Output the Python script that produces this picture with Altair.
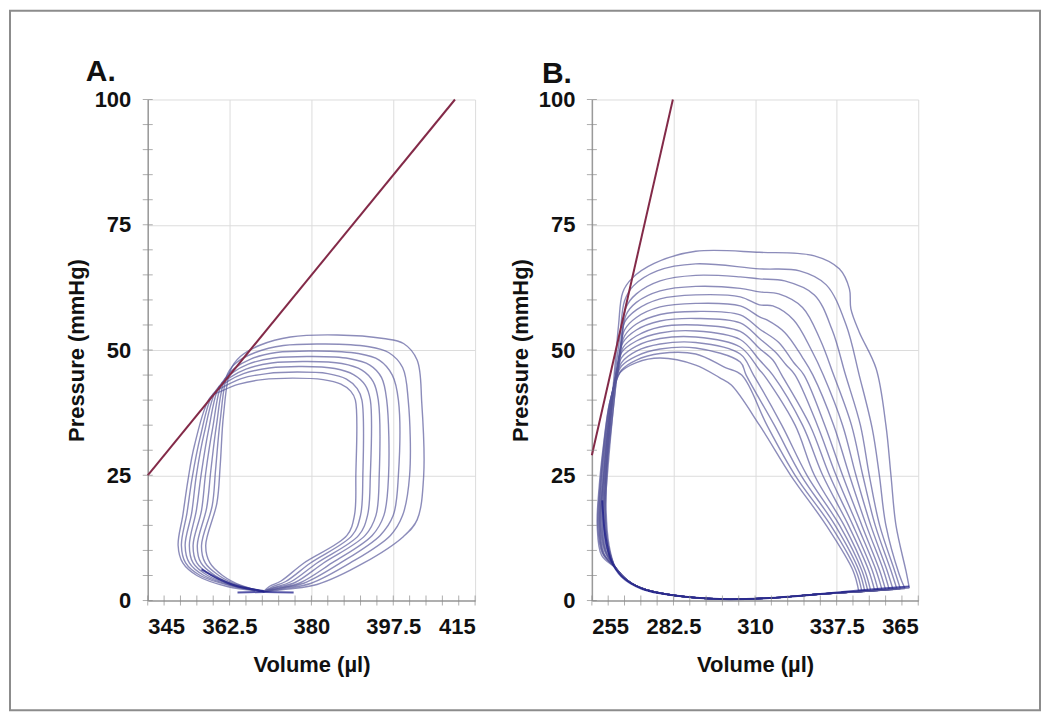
import altair as alt
import pandas as pd

FONT = "Liberation Sans"

# ---------------- Panel A data (volume µl, pressure mmHg) ----------------
A_X_RANGE = [345, 415]
A_X_TICKS = [345, 362.5, 380, 397.5, 415]
A_X_MINOR = [345, 348.5, 352, 355.5, 359, 362.5, 366, 369.5, 373, 376.5, 380,
             383.5, 387, 390.5, 394, 397.5, 401, 404.5, 408, 411.5, 415]
Y_TICKS = [0, 25, 50, 75, 100]
Y_MINOR = [0, 5, 10, 15, 20, 25, 30, 35, 40, 45, 50, 55, 60, 65, 70, 75, 80, 85, 90, 95, 100]

A_ESPVR_VOL = [345, 410.7]
A_ESPVR_PRS = [25, 100]

A0_VOL = [369.8, 375, 381.2, 391.2, 399.7, 402.6, 404, 403.6, 402.6, 399.7, 395.4, 385.5, 375.5, 369.1, 364.8, 362.7, 361.2, 360.5, 359.8, 357.4, 358.3, 361, 365, 369.8]
A0_PRS = [1.8, 2.3, 3.2, 7.5, 12.8, 16.1, 24.8, 39.4, 48, 51.3, 52.3, 53, 52.6, 51, 48.7, 46, 37, 27, 19.5, 11, 7.5, 5, 3, 1.8]
A1_VOL = [369.8, 374, 379.8, 388.3, 396.9, 399.5, 401, 400.7, 399.5, 396.5, 392, 383, 374, 368, 364, 362.1, 360.5, 359.5, 358.8, 356.5, 357.3, 360.2, 364.6, 369.8]
A1_PRS = [1.8, 2.4, 3.4, 7.5, 13, 17, 25, 40, 46.5, 49.5, 50.7, 51.2, 50.9, 49.5, 47.5, 45.3, 36, 26, 19, 11, 7.5, 5, 3, 1.8]
A2_VOL = [369.8, 373.5, 378.5, 386.2, 394.7, 397.5, 398.6, 398.6, 397.3, 394.5, 390, 381, 372.5, 367, 363.5, 361.5, 359.7, 358.5, 357.6, 355.6, 356.4, 359.4, 364.2, 369.8]
A2_PRS = [1.8, 2.5, 3.5, 7.5, 13, 17, 25, 40, 45, 48, 49.3, 49.8, 49.5, 48.2, 46.3, 44.2, 35, 26, 18.5, 11, 7.5, 5, 3, 1.8]
A3_VOL = [369.8, 373, 377.5, 384.4, 393.0, 395.5, 396.5, 396.1, 395, 392.5, 388, 380, 372, 366.5, 363, 360.9, 358.9, 357.4, 356.5, 354.7, 355.5, 358.6, 363.8, 369.8]
A3_PRS = [1.8, 2.5, 3.5, 7.5, 13, 17, 25, 40, 44.5, 47, 48.3, 48.7, 48.4, 47.2, 45.4, 43.5, 34.5, 25.5, 18, 11, 7.5, 5, 3, 1.8]
A4_VOL = [369.8, 372.5, 376.5, 382.6, 391.5, 393.8, 394.5, 394.3, 393.2, 390.8, 386.5, 379, 371.5, 366, 362.5, 360.3, 358.0, 356.4, 355.4, 353.9, 354.7, 357.8, 363.4, 369.8]
A4_PRS = [1.8, 2.6, 3.6, 7.5, 13, 17, 25, 40, 43.7, 46, 47.3, 47.7, 47.4, 46.2, 44.5, 42.8, 34, 25, 18, 11, 7.5, 5, 3, 1.8]
A5_VOL = [369.8, 372, 375.5, 381.2, 390.1, 392, 392.6, 392.6, 391.5, 389, 385, 378, 371, 365.5, 362, 359.7, 357.1, 355.4, 354.4, 353.0, 353.9, 357, 363, 369.8]
A5_PRS = [1.8, 2.6, 3.7, 7.5, 13, 17, 25, 40, 43, 45.1, 46.3, 46.7, 46.4, 45.3, 43.7, 42.1, 33.5, 25, 17.5, 11, 7.5, 5, 3, 1.8]
A6_VOL = [369.8, 371.5, 374.5, 379.8, 388.7, 390.5, 391, 390.8, 389.8, 387.5, 383.5, 377, 370.5, 365, 361.5, 359.0, 356.2, 354.5, 353.4, 352.2, 353.1, 356.2, 362.5, 369.8]
A6_PRS = [1.8, 2.7, 3.8, 7.5, 13, 17, 25, 40, 42.3, 44.2, 45.3, 45.6, 45.3, 44.3, 42.8, 41.3, 32.5, 24.5, 17.5, 11, 7.5, 5, 3, 1.8]
A7_VOL = [369.8, 371, 373.5, 378.4, 387.6, 389.2, 389.5, 389.4, 388.4, 386.3, 382.5, 376, 369.5, 364.5, 361, 358.4, 355, 353.6, 352.5, 351.5, 352.5, 355.5, 362, 369.8]
A7_PRS = [1.8, 2.8, 3.9, 7.5, 13, 17, 25, 40, 41.8, 43.2, 44.1, 44.4, 44.1, 43.2, 41.9, 40.6, 31, 24, 17, 11, 7.5, 5, 2.8, 1.8]

A_DARK1_VOL = [356.5, 360, 364, 369.8]
A_DARK1_PRS = [6.2, 4.4, 2.9, 1.9]
A_DARK2_VOL = [364.2, 370, 376.2]
A_DARK2_PRS = [1.6, 1.7, 1.6]

# ---------------- Panel B data ----------------
B_X_RANGE = [255, 365]
B_X_TICKS = [255, 282.5, 310, 337.5, 365]
B_X_MINOR = [255, 260.5, 266, 271.5, 277, 282.5, 288, 293.5, 299, 304.5, 310,
             315.5, 321, 326.5, 332, 337.5, 343, 348.5, 354, 359.5, 365]

B_ESPVR_VOL = [255, 282.3]
B_ESPVR_PRS = [29, 100]

B_FLOOR_VOL = [263, 267, 273, 283, 298, 315, 330, 340]
B_FLOOR_PRS = [6.5, 4, 2.2, 1.0, 0.3, 0.5, 1.2, 1.6]

B0_VOL = [362, 360.9, 357.5, 355.8, 354.1, 350.8, 345.1, 342.3, 341.8, 338.4, 330, 311.5, 290, 276, 268.5, 265.4, 264, 262.8, 261.5, 260, 259.5, 260.5]
B0_PRS = [2.5, 5.8, 15, 25, 35, 46.3, 53.6, 58.2, 62.2, 66.2, 68.8, 69.5, 69.7, 67.3, 64.3, 61.5, 55, 47, 38, 28, 18, 11]
B1_VOL = [360.5, 358.6, 354.1, 351.9, 349.5, 345.1, 340.7, 334, 325, 311.5, 290, 277, 269, 266, 264.5, 263, 261.5, 260.2, 259.8, 260.8]
B1_PRS = [2.4, 5.2, 15, 25, 34.3, 45, 55, 63, 65.8, 66.2, 67.2, 65.8, 62.8, 59.8, 53, 46, 37, 27, 18, 11]
B2_VOL = [359, 357, 352, 348.5, 345.5, 340.5, 336, 330, 320, 311.5, 305, 290, 278, 270, 266.5, 265, 263.5, 262, 260.5, 259.5, 260.5]
B2_PRS = [2.3, 6, 15, 25, 35, 45, 54, 61, 63.8, 64.2, 64.6, 64.9, 63.8, 61.2, 58.5, 52, 45.5, 37, 27, 18, 11]
B3_VOL = [357.8, 355.8, 350.5, 346.3, 342.5, 336.5, 332, 326, 318, 311.5, 305, 290, 278, 270, 266.5, 265, 263.5, 261.8, 260, 259, 260]
B3_PRS = [2.3, 6, 15, 25, 35, 45, 52, 58.5, 61.2, 61.6, 62.3, 62.7, 61.8, 59.5, 57, 51.5, 45, 36, 26, 17, 10.5]
B4_VOL = [356.5, 354.5, 349, 344, 339.5, 333, 329, 323, 316, 311.5, 305, 290, 278, 270, 266, 264.5, 263, 261.5, 259.8, 259.2, 260.5]
B4_PRS = [2.2, 6, 15, 25, 35, 45, 50, 56, 58.8, 59.0, 60.6, 61.0, 60.2, 58, 55.5, 50.5, 44.5, 36, 26, 17, 10.5]
B5_VOL = [355.2, 353.3, 347.5, 341.8, 336.5, 329.5, 326, 320, 314, 311.5, 305, 290, 278, 270, 266, 264.5, 263, 261, 259.5, 258.8, 260]
B5_PRS = [2.2, 6, 15, 25, 35, 45, 48.5, 53.5, 56, 56.6, 58.8, 59.3, 58.6, 56.5, 54, 49.5, 44, 35.5, 26, 17, 10.5]
B6_VOL = [354, 352, 346, 339.5, 333.5, 326.5, 323, 318, 311.5, 305, 290, 278, 270, 266, 264.2, 262.5, 261, 259.5, 258.5, 259.8]
B6_PRS = [2.1, 6, 15, 25, 35, 45, 47.5, 51.5, 54.2, 57.0, 57.7, 57.1, 55.2, 52.8, 48.5, 43, 35, 25.5, 16.5, 10]
B7_VOL = [352.8, 350.8, 344.5, 337.3, 331, 323.5, 320.5, 317, 311.5, 305, 290, 278, 270, 265.5, 264, 262.3, 260.5, 259, 258.3, 259.5]
B7_PRS = [2.1, 6, 15, 25, 35, 45, 47, 49.5, 52.3, 55.4, 56.3, 55.8, 54, 51.5, 47.5, 42.5, 34.5, 25, 16.5, 10]
B8_VOL = [351.5, 349.5, 343, 335.1, 328.5, 319, 316, 311.5, 305, 290, 278, 270, 265.5, 264, 262, 260.5, 259, 258, 259.5]
B8_PRS = [2.0, 6, 15, 25, 35, 45, 48, 50.3, 53.7, 55.0, 54.6, 52.8, 50.5, 46.5, 42, 34, 24.5, 16, 10]
B9_VOL = [350.3, 348.3, 341.5, 332.8, 326, 316, 311.5, 305, 290, 278, 270, 265, 263.5, 262, 260.3, 258.8, 257.8, 259.2]
B9_PRS = [2.0, 6, 15, 25, 35, 45, 48.0, 52.1, 53.8, 53.4, 51.8, 49.5, 46, 41.5, 33.5, 24, 16, 10]
B10_VOL = [349, 347, 340, 330, 323.5, 313, 311.5, 305, 290, 278, 270, 265, 263.5, 261.8, 260, 258.5, 257.7, 259]
B10_PRS = [1.9, 6, 15, 25, 35, 45, 46.0, 50.6, 52.6, 52.3, 50.8, 48.5, 45, 41, 33, 24, 15.5, 9.5]
B11_VOL = [348, 346, 338.5, 327.5, 319, 309.5, 305, 290, 278, 270, 265, 263.3, 261.5, 259.8, 258.2, 257.5, 258.8]
B11_PRS = [1.9, 6, 15, 25, 35, 45, 49.2, 51.5, 51.2, 49.8, 47.5, 44.5, 40.5, 33, 24, 15.5, 9.5]
B12_VOL = [347, 345, 337, 325.5, 316.5, 307, 305, 290, 278, 270, 265, 263, 261.3, 259.5, 258, 257.3, 258.7]
B12_PRS = [1.8, 6, 15, 25, 35, 45, 47.6, 50.4, 50.2, 48.8, 46.8, 44, 40, 32.5, 23.5, 15, 9.5]
B13_VOL = [346, 344, 335.5, 323.5, 314, 305.5, 300, 290, 278, 270, 265, 263, 261, 259.2, 257.8, 257, 258.5]
B13_PRS = [1.8, 6, 15, 25, 35, 45, 46.5, 49.2, 49.3, 48, 46, 43.5, 39.5, 32, 23.5, 15, 9.5]
B14_VOL = [345, 343, 334, 322, 311.5, 302, 298, 290, 278, 270, 264.5, 262.8, 260.8, 259, 257.5, 256.8, 258.3]
B14_PRS = [1.7, 6, 15, 25, 35, 43, 44.5, 47, 48.4, 47.5, 45.5, 43, 39, 31.5, 23, 15, 9]

B_DARK_VOL = [258.5, 259.5, 261.5, 265, 272, 283, 298, 315, 330, 345, 362]
B_DARK_PRS = [20, 13, 8, 4.8, 2.3, 1.0, 0.3, 0.5, 1.2, 2.0, 2.8]

# ---------------- styling ----------------
LOOP_COLOR = "#55559a"
DARK_COLOR = "#1c1c8a"
ESPVR_COLOR = "#832a48"
TICK_COLOR = "#8a8a8a"
W_A, W_B, H = 328, 327, 502


def loops_frame(prefix, loops):
    rows = []
    for k, (vols, prss) in enumerate(loops):
        for i, (v, p) in enumerate(zip(vols, prss)):
            rows.append({"loop": f"{prefix}{k}", "i": i, "vol": v, "prs": p})
    return pd.DataFrame(rows)


a_loops = loops_frame("A", [(A0_VOL, A0_PRS), (A1_VOL, A1_PRS), (A2_VOL, A2_PRS), (A3_VOL, A3_PRS),
                            (A4_VOL, A4_PRS), (A5_VOL, A5_PRS), (A6_VOL, A6_PRS), (A7_VOL, A7_PRS)])
b_upper = [(B0_VOL, B0_PRS), (B1_VOL, B1_PRS), (B2_VOL, B2_PRS), (B3_VOL, B3_PRS), (B4_VOL, B4_PRS),
           (B5_VOL, B5_PRS), (B6_VOL, B6_PRS), (B7_VOL, B7_PRS), (B8_VOL, B8_PRS), (B9_VOL, B9_PRS),
           (B10_VOL, B10_PRS), (B11_VOL, B11_PRS), (B12_VOL, B12_PRS), (B13_VOL, B13_PRS), (B14_VOL, B14_PRS)]
b_closed = [(v + B_FLOOR_VOL + [v[0]], p + B_FLOOR_PRS + [p[0]]) for v, p in b_upper]
b_loops = loops_frame("B", b_closed)

a_dark = loops_frame("AD", [(A_DARK1_VOL, A_DARK1_PRS), (A_DARK2_VOL, A_DARK2_PRS)])
b_dark = loops_frame("BD", [(B_DARK_VOL, B_DARK_PRS)])
a_espvr = pd.DataFrame({"vol": A_ESPVR_VOL, "prs": A_ESPVR_PRS})
b_espvr = pd.DataFrame({"vol": B_ESPVR_VOL, "prs": B_ESPVR_PRS})
one = pd.DataFrame({"k": [0]})


def panel(loops, dark, espvr, xdom, xticks, xminor, width, letter, lx, ly, frame=False):
    xs = alt.Scale(domain=xdom, nice=False, zero=False)
    ys = alt.Scale(domain=[0, 100], nice=False, zero=False)
    xaxis = alt.Axis(values=xticks, format=".1~f", title="Volume (µl)", grid=True,
                     labelPadding=16, titlePadding=17, tickSize=0)
    yaxis = alt.Axis(values=Y_TICKS, title="Pressure (mmHg)", grid=True,
                     labelPadding=17, titlePadding=6, tickSize=0)

    base_loops = alt.Chart(loops).mark_line(
        interpolate="catmull-rom", color=LOOP_COLOR, strokeWidth=1.4, opacity=0.68
    ).encode(
        x=alt.X("vol:Q", scale=xs, axis=xaxis),
        y=alt.Y("prs:Q", scale=ys, axis=yaxis),
        detail="loop:N",
        order=alt.Order("i:Q"),
    )
    dark_lines = alt.Chart(dark).mark_line(
        interpolate="catmull-rom", color=DARK_COLOR, strokeWidth=2, opacity=0.75
    ).encode(x=alt.X("vol:Q", scale=xs), y=alt.Y("prs:Q", scale=ys),
             detail="loop:N", order=alt.Order("i:Q"))
    esp = alt.Chart(espvr).mark_line(color=ESPVR_COLOR, strokeWidth=2).encode(
        x=alt.X("vol:Q", scale=xs), y=alt.Y("prs:Q", scale=ys))
    yt = alt.Chart(pd.DataFrame({"t": Y_MINOR})).mark_tick(
        color=TICK_COLOR, thickness=1, size=10).encode(
        y=alt.Y("t:Q", scale=ys), x=alt.value(0))
    xt = alt.Chart(pd.DataFrame({"t": xminor})).mark_tick(
        color=TICK_COLOR, thickness=1, size=10).encode(
        x=alt.X("t:Q", scale=xs), y=alt.value(H))
    lab = alt.Chart(one).mark_text(
        text=letter, font=FONT, fontSize=30, fontWeight="bold", align="left",
        baseline="alphabetic", color="#111111").encode(x=alt.value(lx), y=alt.value(ly))
    layers = [base_loops, dark_lines, esp, yt, xt, lab]
    if frame:
        fr = alt.Chart(one).mark_rect(filled=False, stroke="#8c8c8c", strokeWidth=2).encode(
            x=alt.value(-138), x2=alt.value(894), y=alt.value(-89), y2=alt.value(612))
        layers = [fr] + layers
    return alt.layer(*layers).properties(width=width, height=H)


pa = panel(a_loops, a_dark, a_espvr, A_X_RANGE, A_X_TICKS, A_X_MINOR, W_A, "A.", -62, -19, frame=True)
pb = panel(b_loops, b_dark, b_espvr, B_X_RANGE, B_X_TICKS, B_X_MINOR, W_B, "B.", -50, -17)

chart = alt.hconcat(pa, pb, spacing=117, bounds="flush").configure(
    padding={"left": 1, "top": 1, "right": 1, "bottom": 1}, background="white"
).configure_view(stroke=None).configure_axis(
    labelFont=FONT, titleFont=FONT, labelFontSize=22, titleFontSize=22,
    labelFontWeight="bold", titleFontWeight="bold", labelColor="#111111", titleColor="#111111",
    domainColor="#9a9a9a", domainWidth=1.5, gridColor="#dcdcdc", gridWidth=1,
)

chart.save("out.html", embed_options={"renderer": "svg", "actions": False})
